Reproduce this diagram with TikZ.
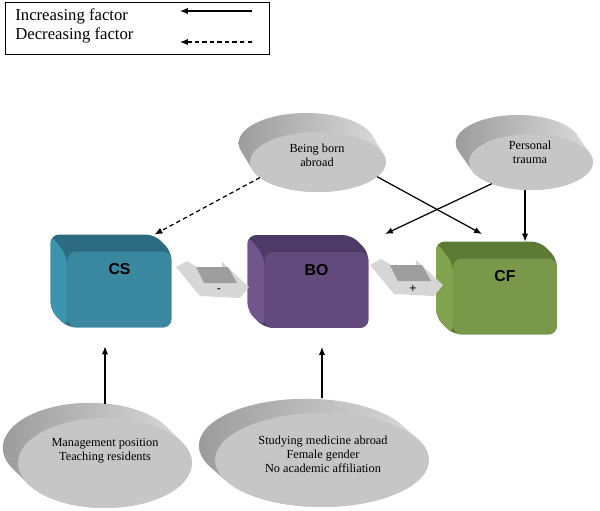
\documentclass[tikz,border=0pt]{standalone}
\usepackage{fontspec}
\setmainfont{Liberation Serif}
\newfontfamily\boxfont{Liberation Sans}
\usetikzlibrary{arrows.meta,shapes.geometric,positioning}

\definecolor{csF}{HTML}{3A87A0}
\definecolor{csT}{HTML}{2D6B80}
\definecolor{csS}{HTML}{3C93AD}
\definecolor{boF}{HTML}{634A7C}
\definecolor{boT}{HTML}{4D3A66}
\definecolor{boS}{HTML}{71568E}
\definecolor{cfF}{HTML}{79984A}
\definecolor{cfT}{HTML}{5C7A34}
\definecolor{cfS}{HTML}{82A34D}
\definecolor{discface}{HTML}{C6C6C6}
\definecolor{discdark}{HTML}{9C9C9C}
\definecolor{disclight}{HTML}{DCDCDC}
\definecolor{arrowlight}{HTML}{D6D6D6}
\definecolor{arrowdark}{HTML}{9E9E9E}

\begin{document}
\begin{tikzpicture}[
  x=0.02cm, y=-0.02cm,
  incr/.style={-{Latex[length=4.5pt,width=3.6pt]}, line width=0.7pt},
  decr/.style={incr, dash pattern=on 2.5pt off 1.8pt},
  face/.style={rectangle, minimum width=2.08cm, minimum height=1.52cm, inner sep=0pt, outer sep=0pt},
  cubelabel/.style={font=\boxfont\bfseries\fontsize{9}{10}\selectfont, inner sep=0pt},
  disc/.style={ellipse, fill=discface, inner sep=0pt, outer sep=0pt},
  disctext/.style={align=center, font=\fontsize{7}{8}\selectfont, inner sep=0pt},
  legendtext/.style={anchor=west, font=\fontsize{9.5}{11}\selectfont, inner sep=0pt}
]
\useasboundingbox (0,0) rectangle (600,511);

% legend
\node[draw, line width=0.6pt, minimum width=5.28cm, minimum height=1.04cm, inner sep=0pt, anchor=north west] (legend) at (5,2) {};
\node[legendtext] (inc) at (15,16) {Increasing factor};
\node[legendtext] (dec) at (15,35) {Decreasing factor};
\coordinate (incfrom) at (252,11);
\coordinate (incto) at (180,11);
\coordinate (decfrom) at (252,42);
\coordinate (decto) at (180,42);
\draw[incr] (incfrom) -- (incto);
\draw[decr] (decfrom) -- (decto);

% discs
\foreach \nm/\cx/\cy/\rx/\ry/\ox/\oy in {born/318/162/68/30/-12/-20, trauma/531/162/62/28/-14/-20,
    mgmt/105/463/87/45/-16/-16, study/322/460/107/47/-17/-15} {
  \shade[left color=discdark, right color=disclight]
    \foreach \t in {0,0.05,...,1} {(\cx+\t*\ox, \cy+\t*\oy) ellipse [x radius=\rx, y radius=\ry]};
  \node[disc, minimum width=\rx*0.04cm, minimum height=\ry*0.04cm] (\nm) at (\cx,\cy) {};
}
\node[disctext] (borntxt) at (317,155) {Being born\\abroad};
\node[disctext] (traumatxt) at (530,152) {Personal\\trauma};
\node[disctext] (mgmttxt) at (105,451) {Management position\\Teaching residents};
\node[disctext] (studytxt) at (323,454) {Studying medicine abroad\\Female gender\\No academic affiliation};

% boxes
\foreach \nm/\cx/\cy/\lbl in {cs/119.5/289.5/CS, bo/316.5/290/BO, cf/505/296.5/CF} {
  \node[face] (\nm back) at (\cx-17,\cy-17) {};
  \node[face] (\nm) at (\cx,\cy) {};
  \fill[fill=\nm T, rounded corners=5pt] (\nm back.north west) -- (\nm back.north east) -- (\nm.north east)
    -- (\nm.south east) -- (\nm.south west) -- (\nm back.south west) -- cycle;
  \fill[fill=\nm S, rounded corners=5pt] (\nm back.north west) -- ([yshift=-3pt]\nm.north west)
    -- (\nm.south west) -- (\nm back.south west) -- cycle;
  \fill[fill=\nm F, rounded corners=5pt] (\nm.north west) rectangle (\nm.south east);
  \node[cubelabel] (\nm lbl) at ([yshift=-0.36cm]\nm.north) {\lbl};
}

% grey arrows between the boxes
\foreach \dx/\dy/\sgn in {0/0/-, 194/-2/+} {
  \begin{scope}[shift={(\dx,\dy)}]
    \fill[arrowlight] (176,267) -- (187,261) -- (197,267) -- (222,267) -- (222,262) -- (249,287)
      -- (240,298) -- (200,296) -- cycle;
    \fill[arrowdark] (196,267) -- (228,267) -- (237,283) -- (204,283) -- cycle;
    \node[font=\boxfont\fontsize{7}{8}\selectfont, inner sep=0pt] (sign\dx) at (219,291) {\sgn};
  \end{scope}
}

% connectors
\coordinate (bornhit) at (482,234);
\coordinate (traumahit) at (385,234);
\draw[decr] (born.195) -- (csback.north east);
\draw[incr] (born.346) -- (bornhit);
\draw[incr] (trauma.209) -- (traumahit);
\draw[incr] (trauma.258) -- (trauma.258 |- cfback.north);
\draw[incr, shorten >=0.38cm] ([yshift=0.28cm]mgmt.north) -- (mgmt.north |- cs.south);
\draw[incr, shorten >=0.38cm] ([yshift=0.3cm]study.north) -- (study.north |- bo.south);
\end{tikzpicture}
\end{document}
